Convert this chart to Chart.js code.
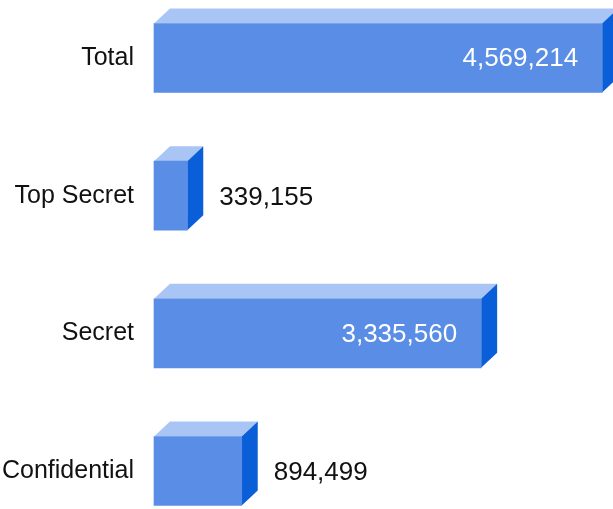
<!DOCTYPE html>
<html>
<head>
<meta charset="utf-8">
<script src="https://cdn.jsdelivr.net/npm/chart.js@4/dist/chart.umd.min.js"></script>
<style>
  html, body { margin: 0; padding: 0; background: #ffffff; }
  #wrap { width: 613px; height: 509px; }
</style>
</head>
<body>
<div id="wrap"><canvas id="classChart"></canvas></div>
<script>
"use strict";

const categories = ["Total", "Top Secret", "Secret", "Confidential"];
const documentCounts = [4569214, 339155, 3335560, 894499];

const frontColor = "#5a8de5";
const topColor = "#a9c5f5";
const sideColor = "#0a5fd8";
const depthX = 16;
const depthY = 15;

// draws the top and right faces behind each bar, so the bars look like boxes
const boxFaces = {
  id: "boxFaces",
  beforeDatasetsDraw(chart) {
    const ctx = chart.ctx;
    chart.getDatasetMeta(0).data.forEach((bar) => {
      const left = bar.base;
      const right = bar.x;
      const top = bar.y - bar.height / 2;
      const bottom = bar.y + bar.height / 2;
      ctx.save();
      ctx.fillStyle = topColor;
      ctx.beginPath();
      ctx.moveTo(left, top);
      ctx.lineTo(left + depthX, top - depthY);
      ctx.lineTo(right + depthX, top - depthY);
      ctx.lineTo(right, top);
      ctx.closePath();
      ctx.fill();
      ctx.fillStyle = sideColor;
      ctx.beginPath();
      ctx.moveTo(right, top);
      ctx.lineTo(right + depthX, top - depthY);
      ctx.lineTo(right + depthX, bottom - depthY);
      ctx.lineTo(right, bottom);
      ctx.closePath();
      ctx.fill();
      ctx.restore();
    });
  },
};

// value labels: white inside long bars, black beside short ones
const valueLabels = {
  id: "valueLabels",
  afterDatasetsDraw(chart) {
    const ctx = chart.ctx;
    const values = chart.data.datasets[0].data;
    ctx.save();
    ctx.font = "26px 'Liberation Sans', Arial, sans-serif";
    ctx.textBaseline = "middle";
    chart.getDatasetMeta(0).data.forEach((bar, i) => {
      const text = values[i].toLocaleString("en-US");
      if (values[i] > 2000000) {
        ctx.fillStyle = "#ffffff";
        ctx.textAlign = "right";
        ctx.fillText(text, bar.x - 24, bar.y + 1);
      } else {
        ctx.fillStyle = "#111111";
        ctx.textAlign = "left";
        ctx.fillText(text, bar.x + 32, bar.y + 2);
      }
    });
    ctx.restore();
  },
};

new Chart(document.getElementById("classChart"), {
  type: "bar",
  data: {
    labels: categories,
    datasets: [
      {
        data: documentCounts,
        backgroundColor: frontColor,
        borderWidth: 0,
        barThickness: 69,
        clip: false,
      },
    ],
  },
  options: {
    indexAxis: "y",
    responsive: true,
    maintainAspectRatio: false,
    animation: false,
    layout: {
      padding: { top: 58, bottom: 38, left: 0, right: 0 },
    },
    plugins: {
      legend: { display: false },
      tooltip: { enabled: false },
    },
    scales: {
      x: {
        display: false,
        min: 0,
        max: 4680000,
      },
      y: {
        offset: false,
        border: { display: false },
        grid: { display: false, drawTicks: false },
        afterFit(scale) {
          scale.width = 154;
        },
        ticks: {
          padding: 20,
          color: "#111111",
          font: { family: "'Liberation Sans', Arial, sans-serif", size: 25 },
        },
      },
    },
  },
  plugins: [boxFaces, valueLabels],
});
</script>
</body>
</html>
